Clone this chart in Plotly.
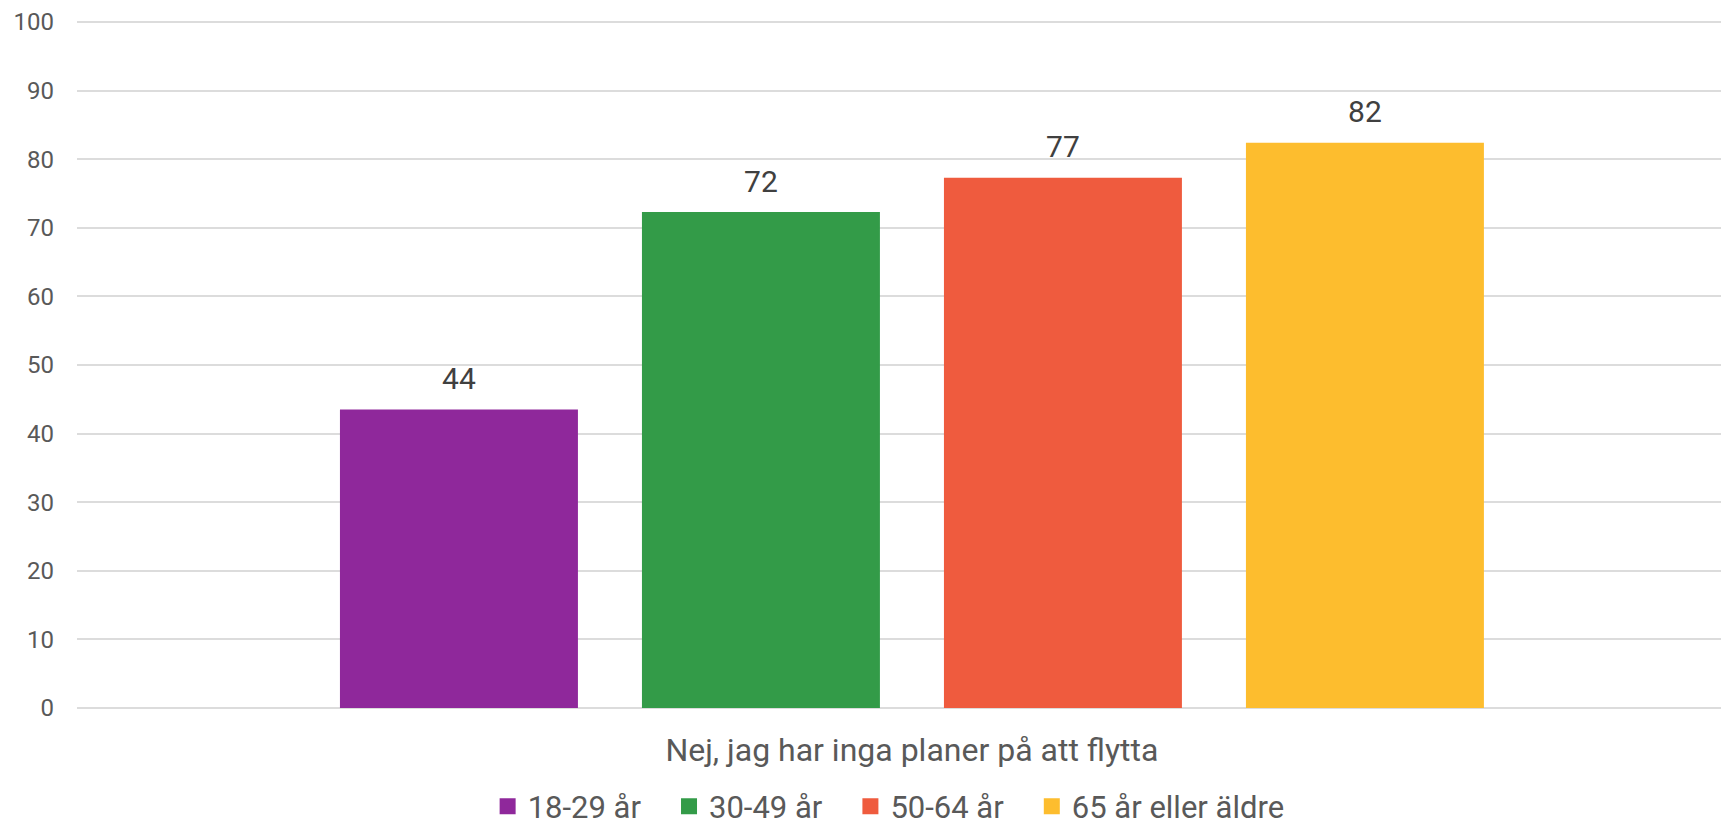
import plotly.graph_objects as go

# ===== Data =====
kategori = ["Nej, jag har inga planer på att flytta"]
grupper = ["18-29 år", "30-49 år", "50-64 år", "65 år eller äldre"]
varden = [43.5, 72.3, 77.3, 82.4]
etiketter = ["44", "72", "77", "82"]
y_ticks = [0, 10, 20, 30, 40, 50, 60, 70, 80, 90, 100]

farger = ["#8f289b", "#339b48", "#ef5b3e", "#fdbd2e"]
textfarg = "#595959"
etikett_lyft = 1.5  # luft mellan stapel och siffra (i y-enheter)
nbsp = "\u00a0"

fig = go.Figure()

for i, (namn, v, etikett, farg) in enumerate(zip(grupper, varden, etiketter, farger)):
    # själva stapeln
    fig.add_trace(go.Bar(
        x=kategori, y=[v],
        name=namn,
        offsetgroup=namn,
        marker=dict(color=farg, line=dict(width=0)),
        showlegend=False,
        hovertemplate=namn + ": %{y}<extra></extra>",
    ))
    # osynlig stapel som bär etiketten lite ovanför
    fig.add_trace(go.Bar(
        x=kategori, y=[v + etikett_lyft],
        offsetgroup=namn,
        marker=dict(color="rgba(0,0,0,0)", line=dict(width=0)),
        text=[etikett],
        textposition="outside",
        textfont=dict(size=30, color="#404040", family="Roboto"),
        cliponaxis=False,
        showlegend=False,
        hoverinfo="skip",
    ))
    # legendsymbol (lite extra luft efter texten)
    luft = nbsp * 3 if i < len(grupper) - 1 else ""
    fig.add_trace(go.Scatter(
        x=[None], y=[None],
        mode="markers",
        name=namn + luft,
        marker=dict(symbol="square", size=16, color=farg),
        showlegend=True,
    ))

# sidan har 8px marginal i body -> figuren görs 8px mindre
fig.update_layout(
    width=1721,
    height=817,
    margin=dict(l=69, r=0, t=13, b=117),
    plot_bgcolor="white",
    paper_bgcolor="white",
    font=dict(family="Roboto", color=textfarg),
    barmode="group",
    bargap=0.2766,
    bargroupgap=0.212,
    legend=dict(
        orientation="h",
        xref="paper", x=0.4913, xanchor="center",
        yref="container", y=0.0225, yanchor="middle",
        font=dict(size=31, color=textfarg),
        traceorder="normal",
    ),
)

fig.update_xaxes(
    type="category",
    range=[-0.5, 0.4893],
    showgrid=False,
    showline=False,
    ticks="",
    tickfont=dict(size=32, color=textfarg),
    ticklabelstandoff=20,
)

fig.update_yaxes(
    range=[0, 100.15],
    tickvals=y_ticks,
    showgrid=True,
    gridcolor="#dcdcdc",
    gridwidth=2,
    zeroline=True,
    zerolinecolor="#dcdcdc",
    zerolinewidth=2,
    showline=False,
    ticks="",
    tickfont=dict(size=24, color=textfarg),
    ticklabelstandoff=22,
)

fig.write_html("out.html")
